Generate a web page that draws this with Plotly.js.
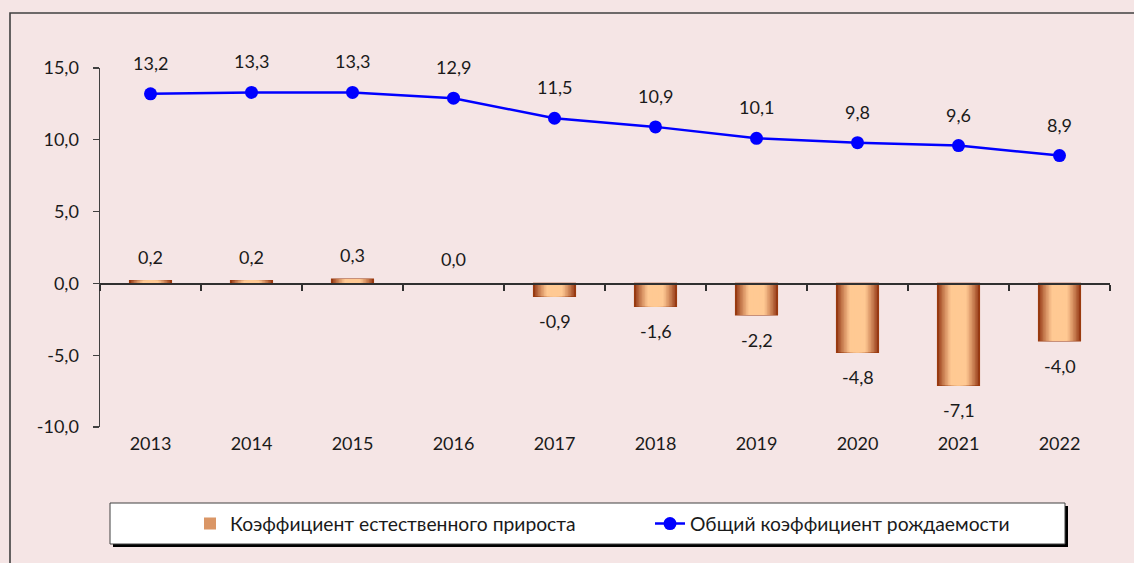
<!DOCTYPE html>
<html>
<head>
<meta charset="utf-8">
<script src="https://cdn.plot.ly/plotly-3.0.1.min.js"></script>
<style>html,body{margin:0;padding:0;background:#f5e5e5;}#chart{width:1134px;height:563px;}</style>
</head>
<body>
<div id="chart"></div>
<script>
const years = ['2013','2014','2015','2016','2017','2018','2019','2020','2021','2022'];
const naturalGrowth = [0.2, 0.2, 0.3, 0.0, -0.9, -1.6, -2.2, -4.8, -7.1, -4.0];
const birthRate = [13.2, 13.3, 13.3, 12.9, 11.5, 10.9, 10.1, 9.8, 9.6, 8.9];
const barName = 'Коэффициент естественного прироста';
const lineName = 'Общий коэффициент рождаемости';
const yTicks = [-10, -5, 0, 5, 10, 15];

const FONT = 'Lato, "Open Sans", "Noto Sans", sans-serif';
const fmt = v => v.toFixed(1).replace('.', ',');

// Gradient bars built from overlaid layers of decreasing width
const BAR_W = 0.415, N = 14;
const dark = [150, 58, 22], light = [255, 201, 147];
const traces = [];
for (let i = 0; i < N; i++) {
  const e = i / N;
  const f = Math.min(1, e / 0.6);
  const c = dark.map((d, k) => Math.round(d + (light[k] - d) * Math.pow(f, 0.85)));
  traces.push({
    type: 'bar', x: years, y: naturalGrowth, name: barName,
    width: BAR_W * (1 - e),
    marker: {color: `rgb(${c.join(',')})`,
      line: {width: i === 0 ? naturalGrowth.map(v => v === 0 ? 0 : 1.2) : 0, color: '#9a3a0e'}},
    showlegend: i === 5, legendgroup: 'bars', hoverinfo: 'skip',
    xaxis: 'x', yaxis: 'y'
  });
}
traces.push({
  type: 'scatter', mode: 'lines+markers', x: years, y: birthRate, name: lineName,
  line: {color: '#0000ff', width: 2.5},
  marker: {color: '#0000ff', size: 13},
  xaxis: 'x2', yaxis: 'y'
});

const annotations = [];
years.forEach((yr, i) => {
  annotations.push({x: i, y: birthRate[i], xref: 'x', yref: 'y', text: fmt(birthRate[i]),
    showarrow: false, yshift: 31, font: {family: FONT, size: 18, color: '#1a1a1a'}});
  const v = naturalGrowth[i];
  annotations.push({x: i, y: v, xref: 'x', yref: 'y', text: fmt(v),
    showarrow: false, yshift: v >= 0 ? 24 : -25, font: {family: FONT, size: 18, color: '#1a1a1a'}});
});

const L = 100, R = 24, T = 68, B = 136, W = 1134, H = 563;
const pw = W - L - R, ph = H - T - B;
const px = x => (x - L) / pw;
const py = y => (H - B - y) / ph;

const layout = {
  width: W, height: H,
  margin: {l: L, r: R, t: T, b: B, pad: 0},
  paper_bgcolor: '#f5e5e5', plot_bgcolor: 'rgba(0,0,0,0)',
  separators: ', ',
  barmode: 'overlay',
  font: {family: FONT, size: 18, color: '#1a1a1a'},
  showlegend: true,
  xaxis: {type: 'category', categoryarray: years, categoryorder: 'array', range: [-0.5, 9.5], showline: false,
    ticks: '', showgrid: false, zeroline: false, ticklabelstandoff: 4,
    tickfont: {family: FONT, size: 18, color: '#1a1a1a'}, fixedrange: true},
  xaxis2: {type: 'category', categoryarray: years, categoryorder: 'array', range: [-0.5, 9.5], overlaying: 'x',
    anchor: 'free', position: 0.4, showline: true, linecolor: '#303030', linewidth: 1.2,
    ticks: 'outside', tickson: 'boundaries', ticklen: 6, tickcolor: '#303030', tickwidth: 1.2,
    showticklabels: false, showgrid: false, zeroline: false, fixedrange: true},
  yaxis: {range: [-10, 15], tickvals: yTicks, ticktext: yTicks.map(fmt), showline: true,
    linecolor: '#404040', linewidth: 1.5, ticks: 'outside', ticklen: 6, tickcolor: '#404040',
    tickwidth: 1.2, showgrid: false, zeroline: false, ticklabelstandoff: 10,
    tickfont: {family: FONT, size: 18, color: '#1a1a1a'}, fixedrange: true},
  legend: {orientation: 'h', x: px(650), xanchor: 'center', y: py(524), yanchor: 'middle',
    bgcolor: 'rgba(0,0,0,0)', borderwidth: 0, entrywidth: 415, entrywidthmode: 'pixels',
    font: {family: FONT, size: 19.3, color: '#1a1a1a'}, traceorder: 'normal', itemclick: false},
  annotations: annotations,
  shapes: [
    {type: 'rect', xref: 'paper', yref: 'paper', x0: px(10), x1: px(1150), y0: py(580), y1: py(13),
      line: {color: '#404040', width: 1.6}, fillcolor: 'rgba(0,0,0,0)', layer: 'below'},
    {type: 'rect', xref: 'paper', yref: 'paper', x0: px(113), x1: px(1068), y0: py(547), y1: py(506),
      line: {width: 0}, fillcolor: '#000000', layer: 'above'},
    {type: 'rect', xref: 'paper', yref: 'paper', x0: px(110), x1: px(1065), y0: py(544), y1: py(503),
      line: {color: '#404040', width: 1}, fillcolor: '#ffffff', layer: 'above'}
  ]
};

Plotly.newPlot('chart', traces, layout, {staticPlot: true, displayModeBar: false});
</script>
</body>
</html>
